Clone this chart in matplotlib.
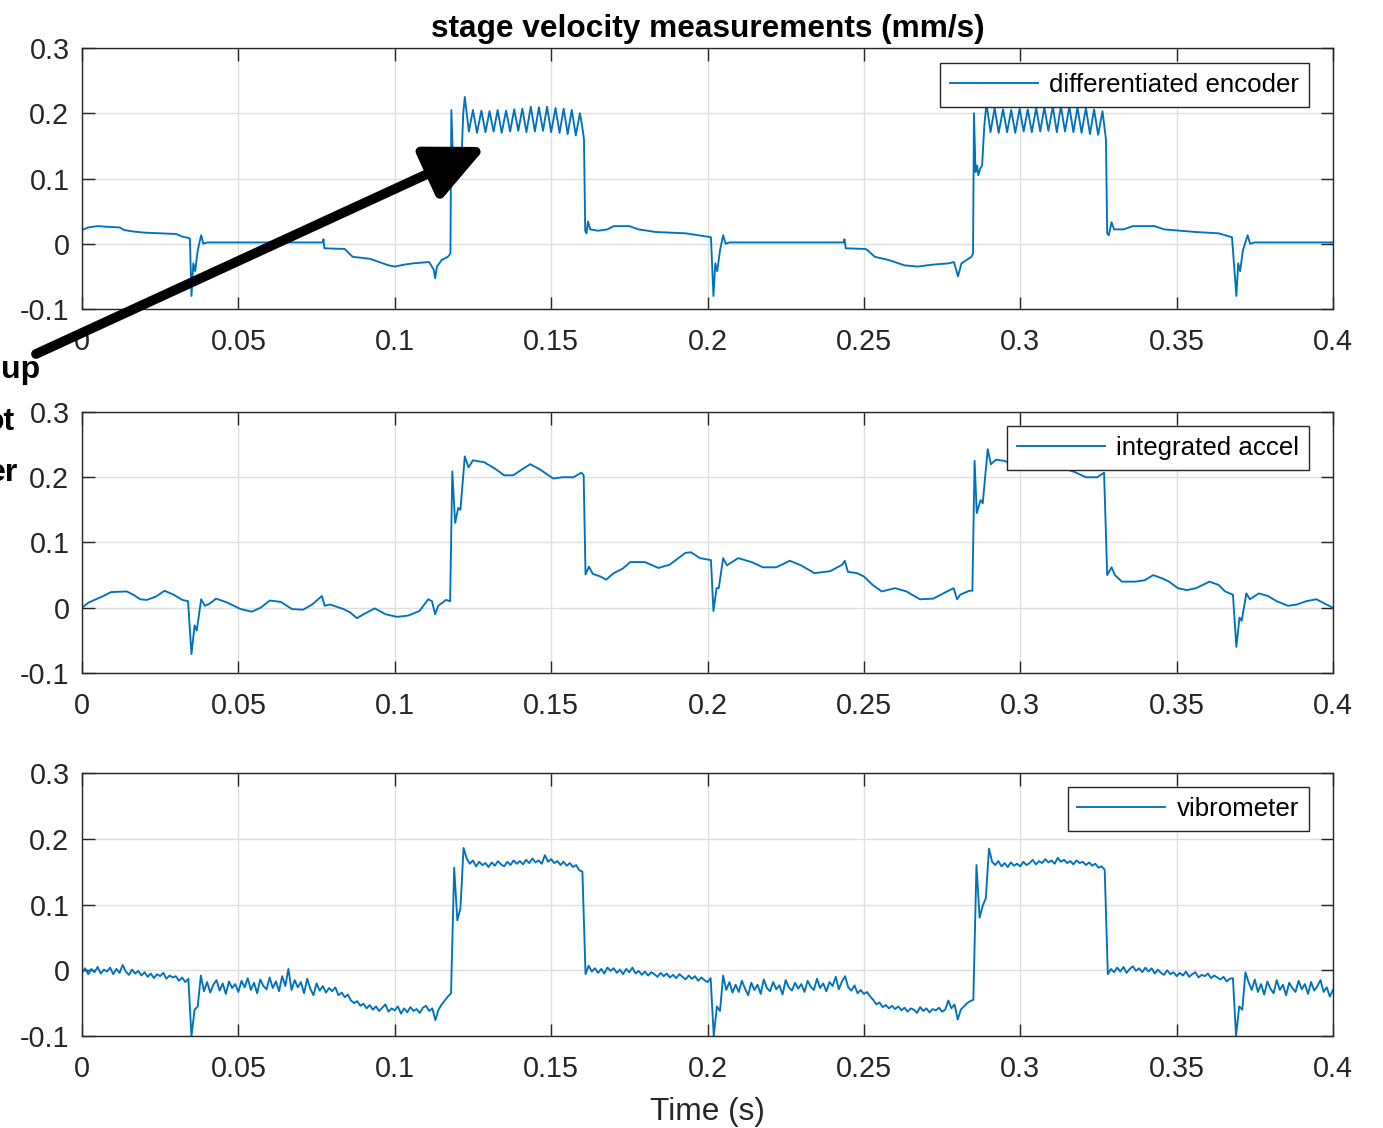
import numpy as np
import matplotlib
matplotlib.use("Agg")
import matplotlib.pyplot as plt

plt.rcParams['font.family'] = ['Liberation Sans', 'DejaVu Sans']

# ---------------- data ----------------
title_text = "stage velocity measurements (mm/s)"
xlabel_text = "Time (s)"
series_names = ["differentiated encoder", "integrated accel", "vibrometer"]
side_texts = ["up", "ot", "er"]

x_ticks = [0, 0.05, 0.1, 0.15, 0.2, 0.25, 0.3, 0.35, 0.4]
x_tick_labels = ["0", "0.05", "0.1", "0.15", "0.2", "0.25", "0.3", "0.35", "0.4"]
y_ticks = [-0.1, 0, 0.1, 0.2, 0.3]
y_tick_labels = ["-0.1", "0", "0.1", "0.2", "0.3"]

# differentiated encoder (time s, velocity mm/s)
enc_t = [0.0, 0.002, 0.005, 0.008, 0.012, 0.0135, 0.016, 0.020, 0.025, 0.030, 0.032, 0.034, 0.0345,
         0.0350, 0.0356, 0.0362, 0.0370, 0.0381, 0.0388, 0.0400, 0.0600, 0.0770, 0.0772, 0.0775, 0.0840,
         0.0865, 0.0920, 0.0980, 0.1000, 0.1030, 0.1060, 0.1110, 0.1125, 0.1129, 0.1135, 0.1150, 0.1170, 0.1178,
         0.1181, 0.1186, 0.1192, 0.1199, 0.1206, 0.1213, 0.1219,
         0.1224, 0.1237, 0.1250, 0.1263, 0.1277, 0.1290, 0.1303, 0.1316, 0.1329, 0.1342,
         0.1356, 0.1369, 0.1382, 0.1395, 0.1408, 0.1421, 0.1435, 0.1448, 0.1461, 0.1474,
         0.1487, 0.1500, 0.1514, 0.1527, 0.1540, 0.1553, 0.1566, 0.1579, 0.1592, 0.1600,
         0.1605, 0.1609, 0.1613, 0.1618, 0.1625, 0.1650, 0.1680, 0.1700, 0.1750, 0.1780, 0.1835, 0.1930, 0.1970, 0.2011,
         0.2019, 0.2025, 0.2031, 0.2040, 0.2050, 0.2058, 0.2070, 0.2435, 0.2438, 0.2442, 0.2505, 0.2512,
         0.2535, 0.2580, 0.2629, 0.2672, 0.2720, 0.2772, 0.2788, 0.2801, 0.2812, 0.2844, 0.2849,
         0.2852, 0.2857, 0.2862, 0.2866, 0.2872, 0.2878, 0.2885,
         0.2892, 0.2905, 0.2918, 0.2931, 0.2945, 0.2958, 0.2971, 0.2984, 0.2998, 0.3011,
         0.3024, 0.3037, 0.3051, 0.3064, 0.3077, 0.3090, 0.3104, 0.3117, 0.3130, 0.3143,
         0.3157, 0.3170, 0.3183, 0.3196, 0.3210, 0.3223, 0.3236, 0.3249, 0.3263, 0.3270,
         0.3274, 0.3278, 0.3283, 0.3292, 0.3300, 0.3330, 0.3360, 0.3430, 0.3460, 0.3560, 0.3634, 0.3677,
         0.3691, 0.3697, 0.3703, 0.3712, 0.3727, 0.3735, 0.3750, 0.4000]
enc_v = [0.021, 0.025, 0.027, 0.026, 0.025, 0.021, 0.019, 0.017, 0.016, 0.015, 0.011, 0.009, 0.008,
         -0.080, -0.030, -0.042, -0.010, 0.013, 0.000, 0.002, 0.002, 0.002, 0.007, -0.007, -0.008,
         -0.020, -0.023, -0.033, -0.035, -0.032, -0.030, -0.028, -0.040, -0.053, -0.035, -0.025, -0.020, -0.015,
         0.205, 0.130, 0.110, 0.120, 0.115, 0.125, 0.200,
         0.225, 0.172, 0.205, 0.170, 0.204, 0.171, 0.203, 0.172, 0.205, 0.170,
         0.204, 0.172, 0.206, 0.173, 0.207, 0.171, 0.210, 0.172, 0.209, 0.173,
         0.210, 0.171, 0.208, 0.170, 0.207, 0.168, 0.205, 0.166, 0.200, 0.178,
         0.160, 0.020, 0.016, 0.034, 0.022, 0.020, 0.022, 0.027, 0.027, 0.022, 0.018, 0.016, 0.013, 0.010,
         -0.080, -0.030, -0.042, -0.010, 0.013, 0.000, 0.002, 0.002, 0.007, -0.007, -0.008, -0.010,
         -0.020, -0.025, -0.033, -0.035, -0.032, -0.030, -0.028, -0.050, -0.030, -0.020, -0.015,
         0.200, 0.110, 0.120, 0.105, 0.115, 0.120, 0.180,
         0.215, 0.171, 0.208, 0.170, 0.206, 0.171, 0.205, 0.170, 0.207, 0.172,
         0.206, 0.171, 0.208, 0.172, 0.209, 0.173, 0.210, 0.171, 0.211, 0.172,
         0.210, 0.171, 0.209, 0.170, 0.208, 0.168, 0.206, 0.167, 0.203, 0.175,
         0.160, 0.016, 0.013, 0.033, 0.022, 0.022, 0.027, 0.027, 0.022, 0.018, 0.016, 0.010,
         -0.080, -0.030, -0.042, -0.010, 0.013, 0.000, 0.002, 0.002]

# integrated accelerometer (time s, velocity mm/s)
acc_t = [0.0, 0.0021, 0.0064, 0.0093, 0.0143, 0.0164, 0.0186, 0.0207, 0.0236, 0.0264, 0.0293, 0.0321, 0.0339,
         0.0350, 0.0360, 0.0367, 0.0381, 0.0393, 0.0407, 0.0429, 0.0464, 0.0507, 0.0543, 0.0571, 0.0600,
         0.0636, 0.0671, 0.0707, 0.0736, 0.0767, 0.0776, 0.0793, 0.0836, 0.0857, 0.0879, 0.0900, 0.0936,
         0.0971, 0.1007, 0.1043, 0.1079, 0.1107, 0.1119, 0.1129, 0.1139, 0.1164, 0.1177,
         0.1184, 0.1193, 0.1203, 0.1210, 0.1224, 0.1236, 0.1250, 0.1286, 0.1321, 0.1350, 0.1379, 0.1407,
         0.1433, 0.1464, 0.1507, 0.1536, 0.1571, 0.1597, 0.1604,
         0.1610, 0.1621, 0.1633, 0.1657, 0.1676, 0.1700, 0.1729, 0.1753, 0.1800, 0.1843, 0.1879, 0.1929,
         0.1947, 0.1976, 0.2011, 0.2019, 0.2029, 0.2036, 0.2050, 0.2062, 0.2098, 0.2141, 0.2177, 0.2220,
         0.2263, 0.2299, 0.2342, 0.2392, 0.2431, 0.2439, 0.2449, 0.2478, 0.2500, 0.2528, 0.2557, 0.2600,
         0.2636, 0.2679, 0.2722, 0.2758, 0.2787, 0.2798, 0.2808, 0.2837, 0.2847,
         0.2854, 0.2861, 0.2873, 0.2880, 0.2896, 0.2906, 0.2923, 0.2950, 0.2985, 0.3000, 0.3030, 0.3070,
         0.3100, 0.3130, 0.3174, 0.3210, 0.3246, 0.3268,
         0.3278, 0.3292, 0.3303, 0.3325, 0.3347, 0.3368, 0.3397, 0.3425, 0.3454, 0.3476, 0.3504, 0.3533,
         0.3562, 0.3605, 0.3634, 0.3655, 0.3680, 0.3691, 0.3701, 0.3708, 0.3723, 0.3734, 0.3763, 0.3792,
         0.3820, 0.3856, 0.3885, 0.3914, 0.3947, 0.3971, 0.4000]
acc_v = [0.000, 0.008, 0.017, 0.024, 0.025, 0.020, 0.013, 0.012, 0.017, 0.026, 0.020, 0.012, 0.010,
         -0.071, -0.027, -0.035, 0.013, 0.003, 0.006, 0.014, 0.008, -0.002, -0.006, 0.000, 0.011,
         0.009, -0.002, -0.003, 0.005, 0.018, 0.003, 0.005, -0.002, -0.007, -0.016, -0.010, -0.001,
         -0.010, -0.014, -0.012, -0.005, 0.013, 0.010, -0.010, 0.003, 0.012, 0.010,
         0.209, 0.130, 0.153, 0.150, 0.232, 0.215, 0.226, 0.223, 0.213, 0.203, 0.203, 0.212,
         0.220, 0.212, 0.198, 0.200, 0.200, 0.207, 0.203,
         0.051, 0.063, 0.052, 0.048, 0.043, 0.053, 0.060, 0.070, 0.070, 0.061, 0.066, 0.084,
         0.085, 0.076, 0.073, -0.005, 0.030, 0.030, 0.076, 0.065, 0.076, 0.070, 0.062, 0.062,
         0.072, 0.065, 0.053, 0.056, 0.066, 0.072, 0.055, 0.053, 0.048, 0.035, 0.025, 0.030,
         0.025, 0.013, 0.014, 0.023, 0.030, 0.013, 0.020, 0.026, 0.026,
         0.225, 0.145, 0.165, 0.160, 0.243, 0.220, 0.227, 0.225, 0.218, 0.212, 0.211, 0.215,
         0.220, 0.215, 0.208, 0.200, 0.200, 0.207,
         0.050, 0.062, 0.050, 0.040, 0.040, 0.040, 0.042, 0.050, 0.045, 0.040, 0.030, 0.027,
         0.030, 0.040, 0.035, 0.025, 0.020, -0.060, -0.015, -0.020, 0.022, 0.013, 0.022, 0.018,
         0.010, 0.003, 0.005, 0.010, 0.013, 0.007, 0.000]

# vibrometer, one value per millisecond from t = 0 to t = 0.4 s
vib_dt = 0.001
vib_v = [
    -0.004, 0.003, -0.006, 0.002, -0.003, 0.005, -0.005, 0.001, -0.002, 0.004,
    -0.006, 0.002, -0.004, 0.008, -0.002, -0.007, 0.001, -0.005, -0.001, -0.008,
    -0.003, -0.010, -0.005, -0.012, -0.006, -0.009, -0.004, -0.013, -0.008, -0.011,
    -0.009, -0.016, -0.011, -0.018, -0.013, -0.100, -0.060, -0.055, -0.008, -0.032,
    -0.018, -0.034, -0.022, -0.015, -0.031, -0.020, -0.036, -0.017, -0.027, -0.021,
    -0.033, -0.016, -0.026, -0.012, -0.030, -0.019, -0.035, -0.014, -0.024, -0.029,
    -0.011, -0.027, -0.017, -0.032, -0.009, -0.024, 0.002, -0.030, -0.015, -0.026,
    -0.018, -0.035, -0.013, -0.028, -0.038, -0.020, -0.031, -0.024, -0.034, -0.027,
    -0.032, -0.026, -0.038, -0.034, -0.041, -0.037, -0.046, -0.050, -0.047, -0.054,
    -0.051, -0.058, -0.053, -0.060, -0.055, -0.062, -0.057, -0.052, -0.063, -0.058,
    -0.061, -0.055, -0.066, -0.058, -0.064, -0.056, -0.062, -0.059, -0.065, -0.057,
    -0.054, -0.062, -0.058, -0.076, -0.060, -0.052, -0.046, -0.040, -0.035, 0.156,
    0.076, 0.094, 0.186, 0.170, 0.162, 0.167, 0.158, 0.165, 0.160, 0.163,
    0.157, 0.164, 0.159, 0.166, 0.161, 0.158, 0.165, 0.160, 0.167, 0.162,
    0.166, 0.161, 0.168, 0.163, 0.170, 0.164, 0.167, 0.162, 0.175, 0.165,
    0.169, 0.163, 0.166, 0.160, 0.165, 0.159, 0.163, 0.157, 0.160, 0.152,
    0.150, -0.006, 0.007, -0.002, 0.003, -0.004, 0.002, -0.005, 0.004, -0.001,
    0.003, -0.004, 0.001, -0.006, 0.002, -0.003, 0.004, -0.005, -0.001, -0.007,
    -0.002, -0.008, -0.003, -0.006, -0.010, -0.004, -0.009, -0.005, -0.011, -0.007,
    -0.012, -0.006, -0.010, -0.014, -0.008, -0.013, -0.009, -0.016, -0.011, -0.015,
    -0.018, -0.012, -0.100, -0.055, -0.062, -0.008, -0.030, -0.018, -0.034, -0.022,
    -0.033, -0.016, -0.028, -0.038, -0.019, -0.030, -0.022, -0.036, -0.014, -0.027,
    -0.032, -0.018, -0.029, -0.023, -0.037, -0.015, -0.026, -0.031, -0.019, -0.028,
    -0.021, -0.033, -0.016, -0.025, -0.030, -0.013, -0.027, -0.020, -0.032, -0.018,
    -0.024, -0.010, -0.029, -0.017, -0.009, -0.026, -0.031, -0.023, -0.035, -0.030,
    -0.036, -0.033, -0.040, -0.045, -0.052, -0.049, -0.056, -0.053, -0.058, -0.054,
    -0.059, -0.055, -0.061, -0.057, -0.063, -0.058, -0.060, -0.065, -0.056, -0.062,
    -0.058, -0.064, -0.059, -0.061, -0.057, -0.063, -0.060, -0.046, -0.058, -0.052,
    -0.075, -0.060, -0.055, -0.050, -0.047, -0.045, 0.160, 0.080, 0.098, 0.110,
    0.185, 0.165, 0.160, 0.166, 0.158, 0.163, 0.157, 0.164, 0.159, 0.162,
    0.158, 0.165, 0.160, 0.163, 0.168, 0.161, 0.166, 0.163, 0.169, 0.164,
    0.167, 0.162, 0.171, 0.165, 0.168, 0.163, 0.166, 0.161, 0.167, 0.163,
    0.165, 0.160, 0.164, 0.159, 0.162, 0.156, 0.158, 0.153, -0.006, 0.002,
    -0.003, 0.004, -0.002, 0.005, -0.004, 0.002, 0.006, -0.001, 0.003, -0.003,
    0.004, -0.002, 0.003, -0.005, 0.001, -0.004, -0.007, 0.000, -0.006, -0.003,
    -0.009, -0.004, -0.008, -0.002, -0.010, -0.006, -0.003, -0.011, -0.007, -0.009,
    -0.005, -0.012, -0.008, -0.011, -0.014, -0.010, -0.017, -0.013, -0.012, -0.100,
    -0.055, -0.060, -0.003, -0.018, -0.030, -0.014, -0.033, -0.021, -0.037, -0.017,
    -0.028, -0.035, -0.015, -0.030, -0.022, -0.038, -0.019, -0.027, -0.033, -0.016,
    -0.029, -0.021, -0.036, -0.018, -0.031, -0.024, -0.015, -0.033, -0.026, -0.040,
    -0.030]
vib_t = np.arange(len(vib_v)) * vib_dt

# ---------------- style ----------------
LINE_C = "#0072BD"
AX_C = "#262626"
GRID_C = "#DFDFDF"
TICK_FS = 20.7
LEG_FS = 18.6
TITLE_FS = 22.8

W, H = 1383, 1128
fig = plt.figure(figsize=(W / 100, H / 100), dpi=100)
fig.patch.set_facecolor("white")


def px_rect(x0, y0, x1, y1):
    return [x0 / W, 1 - y1 / H, (x1 - x0) / W, (y1 - y0) / H]


ax1 = fig.add_axes(px_rect(82, 48, 1333, 309))
ax2 = fig.add_axes(px_rect(82, 412, 1333, 673))
ax3 = fig.add_axes(px_rect(82, 773, 1333, 1036))

series = [(enc_t, enc_v), (acc_t, acc_v), (vib_t, vib_v)]
legend_anchor_y = [0.9425, 0.946, 0.9468]

for ax, (t, v), name, ly in zip([ax1, ax2, ax3], series, series_names, legend_anchor_y):
    ax.plot(t, v, color=LINE_C, lw=1.35, label=name)
    ax.set_xlim(0, 0.4)
    ax.set_ylim(-0.1, 0.3)
    ax.set_xticks(x_ticks)
    ax.set_xticklabels(x_tick_labels)
    ax.set_yticks(y_ticks)
    ax.set_yticklabels(y_tick_labels)
    ax.grid(True, color=GRID_C, lw=1.0)
    ax.set_axisbelow(True)
    ax.tick_params(direction="in", top=True, right=True, length=9, width=1.0,
                   color=AX_C, labelcolor=AX_C, labelsize=TICK_FS)
    ax.tick_params(axis="x", pad=14)
    ax.tick_params(axis="y", pad=9)
    for s in ax.spines.values():
        s.set_color(AX_C)
        s.set_linewidth(1.0)
    leg = ax.legend(loc="upper right", bbox_to_anchor=(0.9808, ly), borderaxespad=0,
                    fontsize=LEG_FS, fancybox=False, framealpha=1, edgecolor=AX_C,
                    handlelength=3.4, handletextpad=0.45, borderpad=0.38)
    leg.get_frame().set_linewidth(1.0)
    for txt in leg.get_texts():
        txt.set_color("black")

ax1.set_title(title_text, fontsize=TITLE_FS, fontweight="bold", pad=8, color="black")
ax3.set_xlabel(xlabel_text, fontsize=TITLE_FS, color=AX_C, labelpad=10)

# arrow and cropped side labels
ax1.annotate("", xy=(486, H - 147), xytext=(36, H - 354),
             xycoords="figure pixels", textcoords="figure pixels",
             arrowprops=dict(arrowstyle="-|>,head_length=0.9,head_width=0.42", lw=7,
                             color="black", mutation_scale=40, shrinkA=0, shrinkB=0),
             annotation_clip=False, zorder=20)

for s, (xr, yb) in zip(side_texts, [(40, 378), (15, 430), (18, 481)]):
    fig.text(xr / W, 1 - yb / H, s, ha="right", va="baseline",
             fontsize=23, fontweight="bold", color="black")

fig.savefig("out.png", dpi=100)
